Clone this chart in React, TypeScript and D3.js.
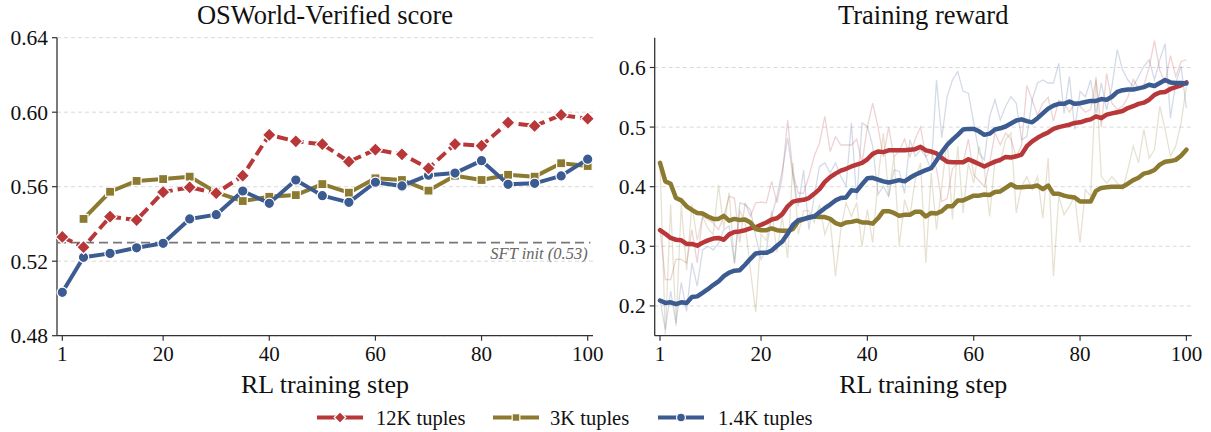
import React from "react";
import * as d3 from "d3";

// ---------- DATA ----------
const evalSteps = [1, 5, 10, 15, 20, 25, 30, 35, 40, 45, 50, 55, 60, 65, 70, 75, 80, 85, 90, 95, 100];
const score12K = [0.533, 0.5275, 0.5439, 0.5421, 0.5571, 0.5597, 0.5565, 0.5659, 0.5878, 0.5844, 0.5828, 0.5734, 0.5799, 0.5774, 0.5699, 0.5829, 0.582, 0.5944, 0.5926, 0.5985, 0.5965];
const score3K: (number | null)[] = [null, 0.5427, 0.5573, 0.5631, 0.5641, 0.5654, 0.557, 0.5523, 0.5546, 0.5555, 0.5614, 0.5568, 0.5645, 0.5636, 0.5579, 0.5659, 0.5636, 0.5664, 0.5654, 0.5726, 0.5711];
const score1_4K = [0.5033, 0.5221, 0.5242, 0.5272, 0.5296, 0.5427, 0.545, 0.5577, 0.5511, 0.5636, 0.5552, 0.5516, 0.5624, 0.5604, 0.5662, 0.5673, 0.574, 0.5613, 0.5618, 0.5658, 0.5748];
const sftInit = 0.53;

const leftYTicks = [0.48, 0.52, 0.56, 0.6, 0.64];
const rightYTicks = [0.2, 0.3, 0.4, 0.5, 0.6];
const xTicks = [1, 20, 40, 60, 80, 100];

const rewardSmooth12K = [
  0.327, 0.321, 0.314, 0.311, 0.310, 0.304, 0.304, 0.301, 0.306, 0.310,
  0.313, 0.314, 0.311, 0.320, 0.324, 0.325, 0.327, 0.330, 0.332, 0.336,
  0.340, 0.345, 0.347, 0.354, 0.367, 0.375, 0.377, 0.378, 0.381, 0.388,
  0.396, 0.408, 0.416, 0.422, 0.427, 0.430, 0.434, 0.437, 0.440, 0.446,
  0.455, 0.459, 0.458, 0.461, 0.461, 0.461, 0.461, 0.462, 0.463, 0.467,
  0.461, 0.459, 0.456, 0.448, 0.442, 0.441, 0.441, 0.441, 0.446, 0.442,
  0.438, 0.434, 0.438, 0.442, 0.445, 0.450, 0.449, 0.451, 0.454, 0.468,
  0.476, 0.482, 0.487, 0.491, 0.497, 0.500, 0.502, 0.504, 0.507, 0.508,
  0.511, 0.513, 0.518, 0.515, 0.521, 0.523, 0.525, 0.527, 0.532, 0.535,
  0.539, 0.541, 0.546, 0.554, 0.558, 0.559, 0.564, 0.567, 0.570, 0.575,
];
const rewardSmooth3K = [
  0.440, 0.409, 0.405, 0.381, 0.377, 0.367, 0.361, 0.356, 0.355, 0.350,
  0.346, 0.346, 0.351, 0.343, 0.346, 0.344, 0.345, 0.340, 0.329, 0.327,
  0.327, 0.330, 0.327, 0.326, 0.326, 0.329, 0.342, 0.345, 0.349, 0.350,
  0.349, 0.349, 0.346, 0.339, 0.336, 0.340, 0.341, 0.343, 0.340, 0.340,
  0.338, 0.347, 0.359, 0.359, 0.356, 0.351, 0.353, 0.353, 0.358, 0.358,
  0.350, 0.356, 0.355, 0.359, 0.367, 0.367, 0.377, 0.377, 0.381, 0.385,
  0.385, 0.387, 0.386, 0.391, 0.392, 0.398, 0.404, 0.399, 0.399, 0.400,
  0.400, 0.402, 0.396, 0.402, 0.388, 0.388, 0.385, 0.383, 0.382, 0.375,
  0.375, 0.375, 0.393, 0.398, 0.399, 0.400, 0.400, 0.400, 0.405, 0.411,
  0.415, 0.422, 0.424, 0.428, 0.437, 0.442, 0.443, 0.445, 0.452, 0.462,
];
const rewardSmooth1_4K = [
  0.209, 0.205, 0.206, 0.203, 0.206, 0.205, 0.215, 0.216, 0.222, 0.228,
  0.235, 0.241, 0.250, 0.256, 0.259, 0.260, 0.269, 0.279, 0.288, 0.289,
  0.289, 0.293, 0.301, 0.308, 0.321, 0.336, 0.344, 0.346, 0.348, 0.350,
  0.357, 0.364, 0.370, 0.377, 0.381, 0.382, 0.394, 0.393, 0.404, 0.414,
  0.415, 0.412, 0.409, 0.407, 0.409, 0.411, 0.409, 0.415, 0.420, 0.424,
  0.428, 0.431, 0.444, 0.458, 0.470, 0.479, 0.487, 0.496, 0.497, 0.497,
  0.493, 0.487, 0.489, 0.496, 0.498, 0.501, 0.506, 0.511, 0.513, 0.510,
  0.508, 0.515, 0.523, 0.531, 0.536, 0.539, 0.539, 0.543, 0.539, 0.540,
  0.542, 0.544, 0.544, 0.547, 0.546, 0.551, 0.559, 0.562, 0.563, 0.563,
  0.565, 0.567, 0.571, 0.569, 0.574, 0.579, 0.575, 0.574, 0.574, 0.573,
];

const rewardRaw12K = [
  0.330, 0.244, 0.244, 0.278, 0.278, 0.272, 0.328, 0.272, 0.350, 0.345,
  0.339, 0.328, 0.350, 0.384, 0.381, 0.306, 0.373, 0.350, 0.373, 0.374,
  0.373, 0.409, 0.373, 0.417, 0.512, 0.423, 0.389, 0.389, 0.417, 0.451,
  0.473, 0.518, 0.459, 0.484, 0.470, 0.470, 0.470, 0.480, 0.440, 0.500,
  0.540, 0.500, 0.450, 0.500, 0.450, 0.460, 0.480, 0.450, 0.480, 0.500,
  0.450, 0.460, 0.430, 0.375, 0.380, 0.430, 0.440, 0.440, 0.480, 0.420,
  0.410, 0.400, 0.440, 0.490, 0.470, 0.490, 0.480, 0.450, 0.470, 0.570,
  0.545, 0.520, 0.540, 0.550, 0.510, 0.545, 0.540, 0.525, 0.540, 0.535,
  0.525, 0.530, 0.580, 0.500, 0.590, 0.540, 0.530, 0.535, 0.550, 0.580,
  0.565, 0.570, 0.600, 0.645, 0.595, 0.575, 0.620, 0.585, 0.610, 0.613,
];
const rewardRaw3K = [
  0.440, 0.152, 0.370, 0.166, 0.370, 0.260, 0.370, 0.310, 0.350, 0.330,
  0.320, 0.403, 0.330, 0.390, 0.270, 0.360, 0.340, 0.260, 0.190, 0.320,
  0.310, 0.360, 0.290, 0.350, 0.280, 0.440, 0.320, 0.360, 0.360, 0.340,
  0.370, 0.320, 0.345, 0.250, 0.328, 0.373, 0.350, 0.373, 0.300, 0.362,
  0.306, 0.412, 0.490, 0.384, 0.451, 0.300, 0.378, 0.350, 0.412, 0.440,
  0.272, 0.423, 0.328, 0.401, 0.479, 0.345, 0.468, 0.356, 0.440, 0.406,
  0.468, 0.429, 0.350, 0.445, 0.440, 0.479, 0.490, 0.356, 0.401, 0.417,
  0.395, 0.417, 0.347, 0.448, 0.250, 0.384, 0.353, 0.367, 0.384, 0.306,
  0.395, 0.384, 0.585, 0.417, 0.406, 0.417, 0.406, 0.395, 0.429, 0.468,
  0.440, 0.496, 0.448, 0.462, 0.535, 0.496, 0.451, 0.468, 0.507, 0.568,
];
const rewardRaw1_4K = [
  0.210, 0.160, 0.225, 0.171, 0.239, 0.191, 0.272, 0.233, 0.294, 0.300,
  0.294, 0.305, 0.328, 0.334, 0.272, 0.373, 0.370, 0.361, 0.317, 0.278,
  0.294, 0.350, 0.384, 0.428, 0.482, 0.417, 0.367, 0.428, 0.328, 0.384,
  0.434, 0.440, 0.423, 0.440, 0.417, 0.401, 0.507, 0.378, 0.507, 0.501,
  0.468, 0.387, 0.401, 0.384, 0.428, 0.426, 0.389, 0.479, 0.451, 0.462,
  0.451, 0.428, 0.579, 0.482, 0.551, 0.579, 0.593, 0.560, 0.557, 0.507,
  0.456, 0.445, 0.518, 0.546, 0.512, 0.535, 0.551, 0.540, 0.479, 0.484,
  0.546, 0.574, 0.579, 0.574, 0.574, 0.607, 0.523, 0.585, 0.496, 0.560,
  0.551, 0.579, 0.523, 0.574, 0.529, 0.568, 0.630, 0.596, 0.579, 0.568,
  0.585, 0.602, 0.613, 0.579, 0.613, 0.640, 0.515, 0.574, 0.602, 0.532,
];

const seriesNames = ["12K tuples", "3K tuples", "1.4K tuples"];

// ---------- STYLE ----------
const RED = "#b8383a";
const OLIVE = "#8c7a30";
const BLUE = "#3b5b91";
const FONT = "'Liberation Serif','Times New Roman',Times,serif";
const SPINE = "#333";

const W = 1211;
const H = 432;

const xL = d3.scaleLinear().domain([0, 101]).range([57, 593]);
const yL = d3.scaleLinear().domain([0.48, 0.64]).range([335.7, 37.7]);
const xR = d3.scaleLinear().domain([0, 101]).range([654.7, 1191.7]);
const yR = d3.scaleLinear().domain([0.15, 0.65]).range([335.7, 37.7]);

const diamondPath = (r: number) => `M0,${-r}L${r},0L0,${r}L${-r},0Z`;

function Marker({ kind, x, y, color, scale = 1 }: { kind: string; x: number; y: number; color: string; scale?: number }) {
  if (kind === "diamond")
    return <path d={diamondPath(6.8 * scale)} transform={`translate(${x},${y})`} fill={color} stroke="#fff" strokeWidth={1.2} />;
  if (kind === "square") {
    const s = 9 * scale;
    return <rect x={x - s / 2} y={y - s / 2} width={s} height={s} fill={color} stroke="#fff" strokeWidth={1.2} />;
  }
  return <circle cx={x} cy={y} r={5.2 * scale} fill={color} stroke="#fff" strokeWidth={1.2} />;
}

function Axes({ x, y, yTicks, fmt, title }: any) {
  const [x0, x1] = x.range();
  const [yb, yt] = y.range();
  return (
    <g fontFamily={FONT}>
      {yTicks.map((t: number) => (
        <line key={"g" + t} x1={x0} x2={x1} y1={y(t)} y2={y(t)} stroke="#cfcfcf" strokeWidth={0.8} strokeDasharray="4,3" />
      ))}
      <line x1={x0} x2={x0} y1={yt} y2={yb} stroke={SPINE} strokeWidth={1.3} />
      <line x1={x0} x2={x1} y1={yb} y2={yb} stroke={SPINE} strokeWidth={1.3} />
      {yTicks.map((t: number) => (
        <g key={"y" + t}>
          <line x1={x0 - 5} x2={x0} y1={y(t)} y2={y(t)} stroke={SPINE} strokeWidth={1.2} />
          <text x={x0 - 9} y={y(t)} dy="0.35em" textAnchor="end" fontSize={21.5} fill="#111">
            {d3.format(fmt)(t)}
          </text>
        </g>
      ))}
      {xTicks.map((t) => (
        <g key={"x" + t}>
          <line x1={x(t)} x2={x(t)} y1={yb} y2={yb + 5} stroke={SPINE} strokeWidth={1.2} />
          <text x={x(t)} y={yb + 25} textAnchor="middle" fontSize={21} fill="#111">
            {t}
          </text>
        </g>
      ))}
      <text x={(x0 + x1) / 2} y={24} textAnchor="middle" fontSize={26.5} fill="#111">
        {title}
      </text>
      <text x={(x0 + x1) / 2} y={393} textAnchor="middle" fontSize={26} fill="#111">
        RL training step
      </text>
    </g>
  );
}

export default function App() {
  const evalLine = d3
    .line<[number, number | null]>()
    .defined((d) => d[1] != null)
    .x((d) => xL(d[0]))
    .y((d) => yL(d[1] as number));

  const leftSeries = [
    { vals: score3K, color: OLIVE, kind: "square", dash: undefined },
    { vals: score1_4K, color: BLUE, kind: "circle", dash: undefined },
    { vals: score12K, color: RED, kind: "diamond", dash: "11,5" },
  ];

  const steps = rewardSmooth12K.map((_, i) => i + 1);
  const rLine = (vals: number[]) =>
    d3
      .line<number>()
      .x((_, i) => xR(steps[i]))
      .y((v) => yR(v))(vals) as string;

  const rightRaw = [
    { vals: rewardRaw12K, color: RED },
    { vals: rewardRaw3K, color: OLIVE },
    { vals: rewardRaw1_4K, color: BLUE },
  ];
  const rightSmooth = [
    { vals: rewardSmooth12K, color: RED },
    { vals: rewardSmooth3K, color: OLIVE },
    { vals: rewardSmooth1_4K, color: BLUE },
  ];

  const legendItems = [
    { name: seriesNames[0], color: RED, kind: "diamond", x0: 317, tx: 376 },
    { name: seriesNames[1], color: OLIVE, kind: "square", x0: 493, tx: 550 },
    { name: seriesNames[2], color: BLUE, kind: "circle", x0: 658, tx: 718 },
  ];
  const legY = 417.5;

  return (
    <svg width={W} height={H} style={{ position: "absolute", left: 0, top: 0, background: "#fff" }}>
      {/* Left panel */}
      <Axes x={xL} y={yL} yTicks={leftYTicks} fmt=".2f" title="OSWorld-Verified score" />
      <line x1={xL.range()[0]} x2={xL(100.5)} y1={yL(sftInit)} y2={yL(sftInit)} stroke="#777" strokeWidth={1.6} strokeDasharray="9,5" />
      <text x={xL(100)} y={259} textAnchor="end" fontSize={16.5} fontStyle="italic" fill="#666" fontFamily={FONT}>
        SFT init ({sftInit.toFixed(2)})
      </text>
      {leftSeries.map((s, k) => {
        const pts = evalSteps.map((st, i) => [st, s.vals[i]] as [number, number | null]);
        return (
          <g key={k}>
            <path d={evalLine(pts) as string} fill="none" stroke={s.color} strokeWidth={4} strokeDasharray={s.dash} strokeLinejoin="round" />
            {pts
              .filter((p) => p[1] != null)
              .map((p, i) => (
                <Marker key={i} kind={s.kind} x={xL(p[0])} y={yL(p[1] as number)} color={s.color} />
              ))}
          </g>
        );
      })}

      {/* Right panel */}
      <Axes x={xR} y={yR} yTicks={rightYTicks} fmt=".1f" title="Training reward" />
      {rightRaw.map((s, k) => (
        <path key={"r" + k} d={rLine(s.vals)} fill="none" stroke={s.color} strokeOpacity={0.22} strokeWidth={1.3} />
      ))}
      {rightSmooth.map((s, k) => (
        <path key={"s" + k} d={rLine(s.vals)} fill="none" stroke={s.color} strokeWidth={4.5} strokeLinejoin="round" strokeLinecap="round" />
      ))}

      {/* Legend */}
      <g fontFamily={FONT}>
        {legendItems.map((it) => (
          <g key={it.name}>
            <line x1={it.x0} x2={it.x0 + 46} y1={legY} y2={legY} stroke={it.color} strokeWidth={4} />
            <Marker kind={it.kind} x={it.x0 + 23} y={legY} color={it.color} scale={0.85} />
            <text x={it.tx} y={legY} dy="0.35em" fontSize={20.5} fill="#111">
              {it.name}
            </text>
          </g>
        ))}
      </g>
    </svg>
  );
}
